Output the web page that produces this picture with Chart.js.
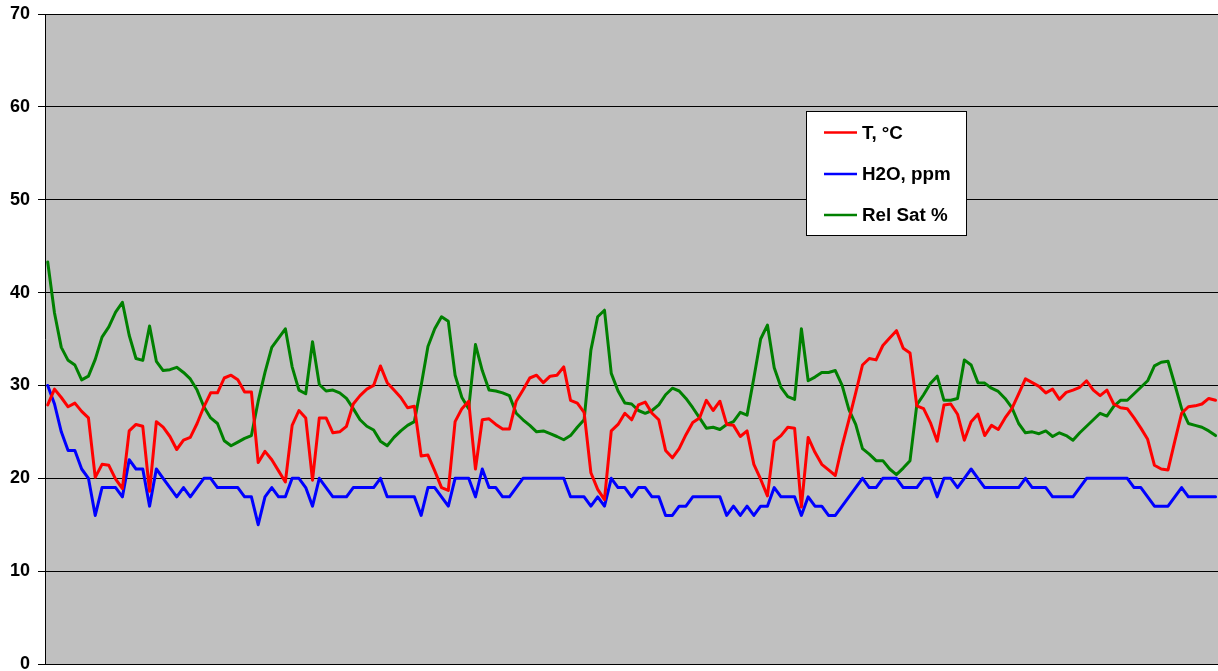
<!DOCTYPE html>
<html>
<head>
<meta charset="utf-8">
<style>
  html, body { margin: 0; padding: 0; background: #ffffff; }
  #c { display: block; }
</style>
<script src="https://cdn.jsdelivr.net/npm/chart.js@4.4.1/dist/chart.umd.min.js"></script>
</head>
<body>
<canvas id="c" width="1218" height="671"></canvas>
<script>
// ---- data (one reading per sample, index = sample number) ----
const seriesLabels = ["T, °C", "H2O, ppm", "Rel Sat %"];

const temperature = [
  27.9, 29.6, 28.7, 27.7, 28.1, 27.2, 26.5, 20.1, 21.5, 21.4,
  19.9, 18.9, 25.1, 25.8, 25.6, 18.6, 26.1, 25.5, 24.5, 23.1,
  24.1, 24.4, 25.9, 27.7, 29.2, 29.2, 30.8, 31.1, 30.6, 29.3,
  29.3, 21.7, 22.9, 22.0, 20.8, 19.6, 25.7, 27.3, 26.5, 19.8,
  26.5, 26.5, 24.9, 25.0, 25.6, 28.0, 28.9, 29.6, 30.0, 32.1,
  30.3, 29.5, 28.7, 27.6, 27.75, 22.4, 22.5, 20.8, 19.0, 18.7,
  26.1, 27.5, 28.3, 21.0, 26.3, 26.4, 25.8, 25.3, 25.3, 28.3,
  29.5, 30.8, 31.1, 30.3, 31.0, 31.1, 32.0, 28.4, 28.1, 27.1,
  20.6, 18.8, 17.7, 25.1, 25.8, 27.0, 26.3, 27.9, 28.2, 27.0,
  26.3, 23.0, 22.2, 23.2, 24.7, 26.0, 26.5, 28.4, 27.3, 28.3,
  25.8, 25.7, 24.5, 25.1, 21.5, 19.9, 18.1, 24.0, 24.6, 25.5,
  25.4, 16.9, 24.4, 22.8, 21.5, 20.9, 20.3, 23.5, 26.3, 29.2,
  32.2, 32.9, 32.75, 34.3, 35.1, 35.9, 34.0, 33.5, 27.8, 27.5,
  26.0, 24.0, 27.9, 28.0, 26.9, 24.1, 26.1, 26.9, 24.6, 25.7,
  25.25, 26.5, 27.5, 29.1, 30.7, 30.3, 29.9, 29.2, 29.6, 28.5,
  29.25, 29.5, 29.8, 30.5, 29.5, 28.9, 29.5, 28.0, 27.6, 27.5,
  26.5, 25.4, 24.2, 21.4, 21.0, 20.9, 24.0, 27.0, 27.7, 27.8,
  28.0, 28.6, 28.4
];

const h2oPpm = [
  30, 28, 25, 23, 23, 21, 20, 16, 19, 19,
  19, 18, 22, 21, 21, 17, 21, 20, 19, 18,
  19, 18, 19, 20, 20, 19, 19, 19, 19, 18,
  18, 15, 18, 19, 18, 18, 20, 20, 19, 17,
  20, 19, 18, 18, 18, 19, 19, 19, 19, 20,
  18, 18, 18, 18, 18, 16, 19, 19, 18, 17,
  20, 20, 20, 18, 21, 19, 19, 18, 18, 19,
  20, 20, 20, 20, 20, 20, 20, 18, 18, 18,
  17, 18, 17, 20, 19, 19, 18, 19, 19, 18,
  18, 16, 16, 17, 17, 18, 18, 18, 18, 18,
  16, 17, 16, 17, 16, 17, 17, 19, 18, 18,
  18, 16, 18, 17, 17, 16, 16, 17, 18, 19,
  20, 19, 19, 20, 20, 20, 19, 19, 19, 20,
  20, 18, 20, 20, 19, 20, 21, 20, 19, 19,
  19, 19, 19, 19, 20, 19, 19, 19, 18, 18,
  18, 18, 19, 20, 20, 20, 20, 20, 20, 20,
  19, 19, 18, 17, 17, 17, 18, 19, 18, 18,
  18, 18, 18
];

const relSat = [
  43.3, 37.8, 34.1, 32.7, 32.2, 30.6, 31.0, 32.8, 35.2, 36.3,
  37.9, 38.95, 35.4, 32.9, 32.7, 36.4, 32.6, 31.6, 31.7, 31.95,
  31.4, 30.7, 29.5, 27.7, 26.5, 25.9, 24.05, 23.5, 23.9, 24.3,
  24.6, 28.3, 31.4, 34.1, 35.1, 36.1, 32.0, 29.5, 29.1, 34.7,
  30.1, 29.4, 29.5, 29.2, 28.6, 27.5, 26.3, 25.6, 25.2, 24.0,
  23.5, 24.4, 25.1, 25.7, 26.1, 30.0, 34.2, 36.1, 37.4, 36.9,
  31.1, 28.7, 27.5, 34.4, 31.6, 29.5, 29.4, 29.2, 28.9, 27.0,
  26.3, 25.7, 25.0, 25.1, 24.8, 24.5, 24.15, 24.6, 25.5, 26.3,
  33.8, 37.4, 38.1, 31.3, 29.4, 28.1, 28.0, 27.3, 27.0, 27.3,
  27.9, 29.0, 29.7, 29.4, 28.6, 27.6, 26.5, 25.4, 25.5, 25.25,
  25.8, 26.1, 27.1, 26.8, 30.8, 35.0, 36.5, 31.9, 29.8, 28.8,
  28.5, 36.1, 30.5, 30.9, 31.4, 31.4, 31.6, 30.0, 27.4, 25.8,
  23.2, 22.6, 21.9, 21.9, 21.0, 20.4, 21.1, 21.9, 27.9, 29.0,
  30.2, 31.0, 28.4, 28.4, 28.6, 32.75, 32.2, 30.3, 30.25, 29.7,
  29.35, 28.6, 27.6, 25.9, 24.9, 25.0, 24.8, 25.1, 24.5, 24.9,
  24.6, 24.1, 24.9, 25.6, 26.3, 27.0, 26.7, 27.75, 28.4, 28.4,
  29.1, 29.8, 30.5, 32.1, 32.5, 32.6, 30.1, 27.5, 25.9, 25.7,
  25.5, 25.1, 24.6
];

const yTicks = [0, 10, 20, 30, 40, 50, 60, 70];

// ---- chart ----
const toPoints = arr => arr.map((v, i) => ({ x: i, y: v }));
const FONT = '"Liberation Sans", Arial, sans-serif';

const plotBg = {
  id: 'plotBg',
  beforeDraw(chart) {
    const { ctx, chartArea: a } = chart;
    ctx.save();
    ctx.fillStyle = '#C0C0C0';
    ctx.fillRect(a.left, a.top, a.right - a.left, a.bottom - a.top);
    ctx.restore();
  }
};

const boxLegend = {
  id: 'boxLegend',
  afterDraw(chart) {
    const { ctx } = chart;
    const x0 = 806.5, y0 = 111.5, w = 160, h = 124;
    ctx.save();
    ctx.fillStyle = '#ffffff';
    ctx.fillRect(x0, y0, w, h);
    ctx.strokeStyle = '#000000';
    ctx.lineWidth = 1;
    ctx.strokeRect(x0, y0, w, h);
    const rows = [132.5, 174, 215];
    chart.data.datasets.forEach((ds, i) => {
      const y = rows[i];
      ctx.strokeStyle = ds.borderColor;
      ctx.lineWidth = 2.5;
      ctx.beginPath();
      ctx.moveTo(824, y);
      ctx.lineTo(857, y);
      ctx.stroke();
      ctx.fillStyle = '#000000';
      ctx.font = 'bold 18.8px ' + FONT;
      ctx.textAlign = 'left';
      ctx.textBaseline = 'middle';
      ctx.fillText(ds.label, 862, y + 1);
    });
    ctx.restore();
  }
};

new Chart(document.getElementById('c'), {
  type: 'line',
  data: {
    datasets: [
      { label: seriesLabels[0], data: toPoints(temperature), borderColor: '#FF0000' },
      { label: seriesLabels[1], data: toPoints(h2oPpm), borderColor: '#0000FF' },
      { label: seriesLabels[2], data: toPoints(relSat), borderColor: '#008000' }
    ]
  },
  options: {
    responsive: false,
    animation: false,
    parsing: true,
    layout: { padding: { top: 14, bottom: 7, left: 0, right: 0 } },
    elements: {
      line: { borderWidth: 3, tension: 0, borderJoinStyle: 'round', borderCapStyle: 'round' },
      point: { radius: 0, hoverRadius: 0 }
    },
    plugins: { legend: { display: false }, tooltip: { enabled: false } },
    scales: {
      x: {
        type: 'linear',
        display: false,
        min: -0.4,
        max: 172.36
      },
      y: {
        type: 'linear',
        min: 0,
        max: 70,
        afterBuildTicks: s => { s.ticks = yTicks.map(v => ({ value: v })); },
        afterFit: s => { s.width = 45; s.paddingTop = 0; s.paddingBottom = 0; },
        grid: { color: '#000000', lineWidth: 1, tickLength: 7, drawTicks: true, tickColor: '#000000' },
        border: { display: true, color: '#000000', width: 1 },
        ticks: {
          color: '#000000',
          padding: 8,
          font: { family: FONT, size: 18, weight: 'bold' }
        }
      }
    }
  },
  plugins: [plotBg, boxLegend]
});
</script>
</body>
</html>
